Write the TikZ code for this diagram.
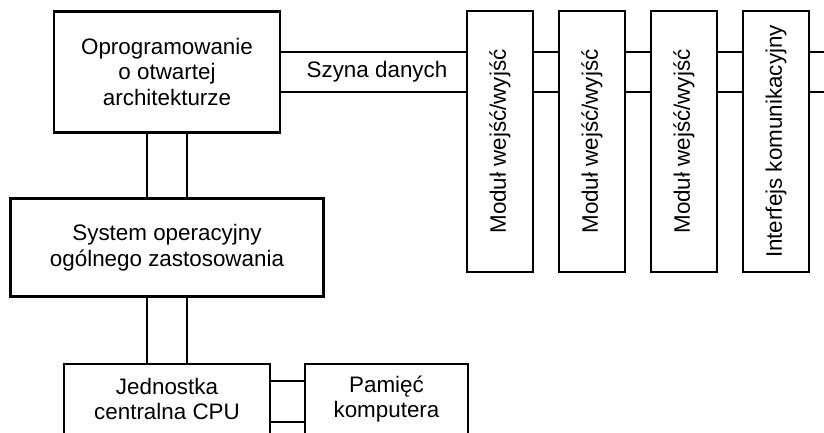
\documentclass[tikz,border=0pt]{standalone}
\usepackage{fontspec}
\setmainfont{Liberation Sans}
\begin{document}
\begin{tikzpicture}[x=1pt,y=-1pt,
  thickbox/.style={draw=black,line width=2.8pt,inner sep=0pt,align=center,
    font=\fontsize{22.4}{25.5}\selectfont},
  thinbox/.style={draw=black,line width=1.2pt,inner sep=0pt,align=center,
    font=\fontsize{22.4}{25.5}\selectfont},
  modbox/.style={thinbox,minimum width=66pt,minimum height=261pt},
  vtext/.style={rotate=90,font=\fontsize{22.4}{25.5}\selectfont,inner sep=0pt},
  conn/.style={draw=black,line width=1.2pt},
  lbl/.style={font=\fontsize{22.4}{25.5}\selectfont,inner sep=0pt}]
\useasboundingbox (0,0) rectangle (824,432);
\clip (0,0) rectangle (824,432);
\fill[white] (0,0) rectangle (824,432);

% helper coordinates
\coordinate (busA) at (0,52);
\coordinate (busB) at (0,92);
\coordinate (vA) at (147,0);
\coordinate (vB) at (187,0);
\coordinate (hA) at (0,381);
\coordinate (hB) at (0,422);
\coordinate (edgeA) at (830,52);
\coordinate (edgeB) at (830,92);

% boxes
\node[thickbox,minimum width=226pt,minimum height=121pt] (top) at (167,71.8)
  {Oprogramowanie\\o otwartej\\architekturze};
\node[thickbox,minimum width=312.6pt,minimum height=98.4pt] (sys) at (167,247.5)
  {System operacyjny\\ogólnego zastosowania};
\node[thinbox,minimum width=206pt,minimum height=70pt] (cpu) at (167,399)
  {Jednostka\\centralna CPU};
\node[thinbox,minimum width=163pt,minimum height=70pt] (mem) at (386.5,399)
  {Pamięć\\komputera};

\node[modbox] (m1) at (500,141.5) {};
\node[modbox] (m2) at (592,141.5) {};
\node[modbox] (m3) at (684,141.5) {};
\node[modbox] (ifc) at (776,141.5) {};
\node[vtext] (t1) at (m1.center) {Moduł wejść/wyjść};
\node[vtext] (t2) at (m2.center) {Moduł wejść/wyjść};
\node[vtext] (t3) at (m3.center) {Moduł wejść/wyjść};
\node[vtext] (t4) at (ifc.center) {Interfejs komunikacyjny};

% data bus
\draw[conn] (top.east |- busA) -- (m1.west |- busA);
\draw[conn] (top.east |- busB) -- (m1.west |- busB);
\node[lbl] (bus) at (377,72) {Szyna danych};
\draw[conn] (m1.east |- busA) -- (m2.west |- busA);
\draw[conn] (m1.east |- busB) -- (m2.west |- busB);
\draw[conn] (m2.east |- busA) -- (m3.west |- busA);
\draw[conn] (m2.east |- busB) -- (m3.west |- busB);
\draw[conn] (m3.east |- busA) -- (ifc.west |- busA);
\draw[conn] (m3.east |- busB) -- (ifc.west |- busB);
\draw[conn] (ifc.east |- busA) -- (edgeA);
\draw[conn] (ifc.east |- busB) -- (edgeB);

% vertical links
\draw[conn] (top.south -| vA) -- (sys.north -| vA);
\draw[conn] (top.south -| vB) -- (sys.north -| vB);
\draw[conn] (sys.south -| vA) -- (cpu.north -| vA);
\draw[conn] (sys.south -| vB) -- (cpu.north -| vB);

% cpu - memory
\draw[conn] (cpu.east |- hA) -- (mem.west |- hA);
\draw[conn] (cpu.east |- hB) -- (mem.west |- hB);
\end{tikzpicture}
\end{document}
